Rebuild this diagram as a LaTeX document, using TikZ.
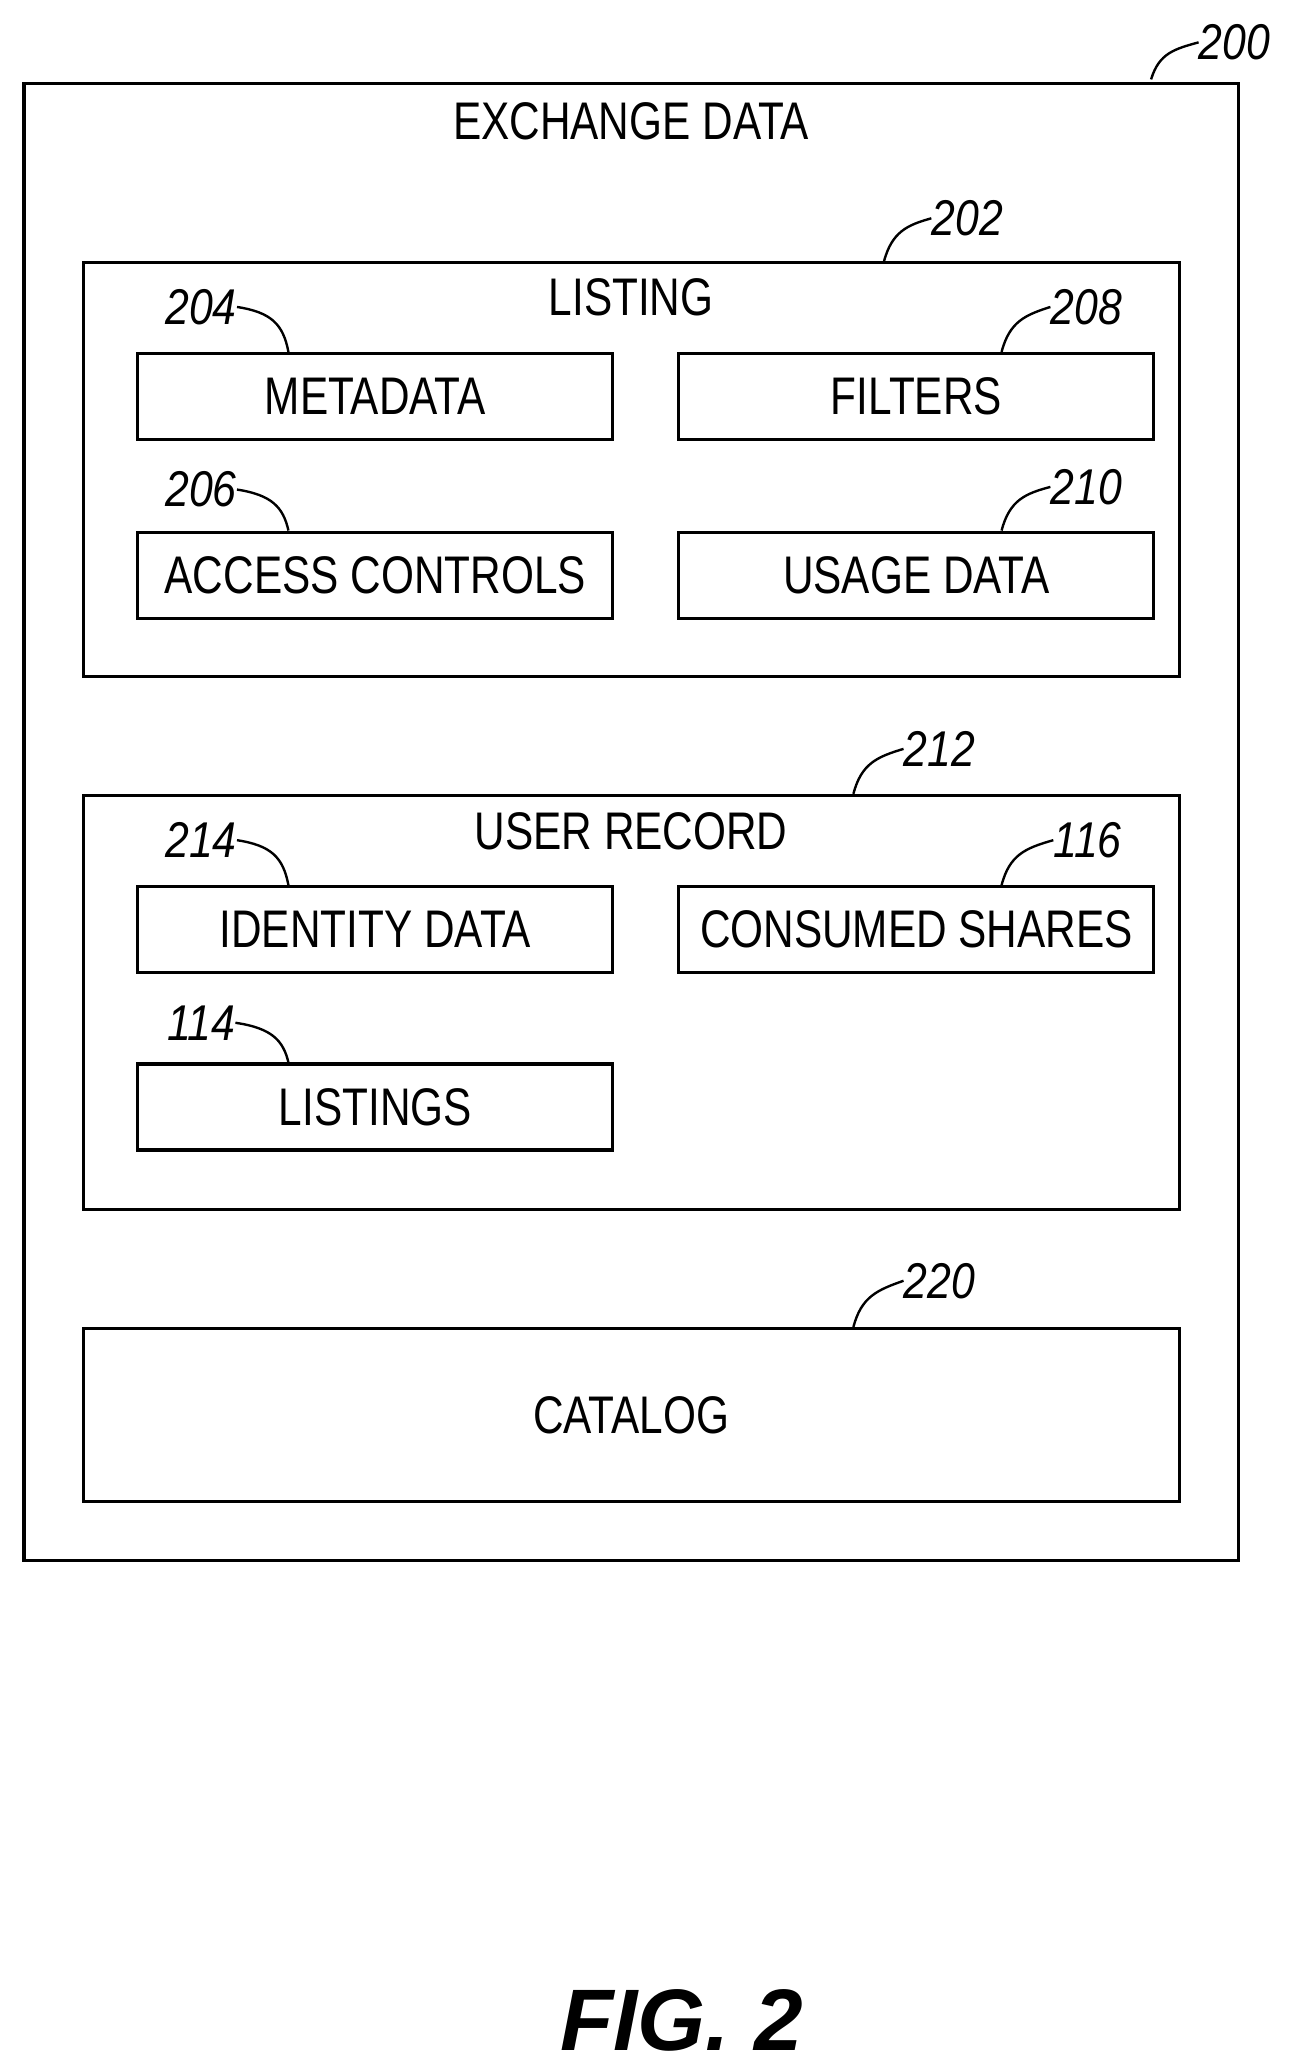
\documentclass[tikz,border=0pt]{standalone}
\usepackage{fontspec}
\setmainfont{Liberation Sans}
\begin{document}
\begin{tikzpicture}[x=1pt,y=-1pt,
  box/.style={draw,line width=2.3pt,anchor=north west,inner sep=0pt},
  txt/.style={font=\fontsize{40}{44}\selectfont,xscale=0.8,inner sep=0pt},
  num/.style={font=\itshape\fontsize{38}{42}\selectfont,xscale=0.85,inner sep=0pt},
  lead/.style={line width=1.8pt}]
\useasboundingbox (0,0) rectangle (975,1563);
\newcommand{\bx}[5]{\node[box,minimum width=#4-#2,minimum height=#5-#3] (#1) at (#2,#3) {};}
\bx{outer}{17}{62}{935}{1178}
\bx{listing}{62}{197}{890}{510}
\bx{meta}{103}{266}{462}{331}
\bx{filt}{512}{266}{871}{331}
\bx{acc}{103}{401}{462}{466}
\bx{usage}{512}{401}{871}{466}
\bx{user}{62}{600}{890}{913}
\bx{ident}{103}{669}{462}{734}
\bx{cons}{512}{669}{871}{734}
\bx{lists}{103}{803}{462}{868}
\bx{cat}{62}{1003}{890}{1134}
\node[txt] (t0) at (477,92) {EXCHANGE DATA};
\node[txt] (t1) at (477,225) {LISTING};
\node[txt] at (meta.center) {METADATA};
\node[txt] at (filt.center) {FILTERS};
\node[txt] at (acc.center) {ACCESS CONTROLS};
\node[txt] at (usage.center) {USAGE DATA};
\node[txt] (t2) at (477,628) {USER RECORD};
\node[txt] at (ident.center) {IDENTITY DATA};
\node[txt] at (cons.center) {CONSUMED SHARES};
\node[txt] at (lists.center) {LISTINGS};
\node[txt] at (cat.center) {CATALOG};
\node[font=\bfseries\itshape\fontsize{66}{70}\selectfont,inner sep=0pt] (fig) at (515,1527) {FIG. 2};
% numbers
\node[num] (n200) at (933,32) {200};
\node[num] (n202) at (731,165) {202};
\node[num] (n204) at (152,232) {204};
\node[num] (n208) at (821,232) {208};
\node[num] (n206) at (152,370) {206};
\node[num] (n210) at (821,368) {210};
\node[num] (n212) at (710,566) {212};
\node[num] (n214) at (152,635) {214};
\node[num] (n116) at (822,635) {116};
\node[num] (n114) at (152,773) {114};
\node[num] (n220) at (710,968) {220};
% leaders: right-side labels (leader from left of number down to box)
\coordinate (c200) at (870,60);
\draw[lead] (c200) .. controls (876,40) and (888,37) .. (n200.west);
\coordinate (c202) at (668,198);
\draw[lead] (c202) .. controls (674,175) and (686,170) .. (n202.west);
\coordinate (c208) at (757,266);
\draw[lead] (c208) .. controls (763,243) and (775,238) .. (n208.west);
\coordinate (c210) at (757,401);
\draw[lead] (c210) .. controls (763,378) and (775,373) .. (n210.west);
\coordinate (c212) at (645,600);
\draw[lead] (c212) .. controls (651,577) and (663,572) .. (n212.west);
\coordinate (c116) at (757,669);
\draw[lead] (c116) .. controls (763,646) and (775,641) .. (n116.west);
\coordinate (c220) at (645,1003);
\draw[lead] (c220) .. controls (651,980) and (663,975) .. (n220.west);
% left-side labels
\coordinate (c204) at (218,266);
\draw[lead] (n204.east) .. controls (205,236) and (214,245) .. (c204);
\coordinate (c206) at (218,401);
\draw[lead] (n206.east) .. controls (205,374) and (214,383) .. (c206);
\coordinate (c214) at (218,669);
\draw[lead] (n214.east) .. controls (205,639) and (214,648) .. (c214);
\coordinate (c114) at (218,803);
\draw[lead] (n114.east) .. controls (205,777) and (214,786) .. (c114);
\end{tikzpicture}
\end{document}
